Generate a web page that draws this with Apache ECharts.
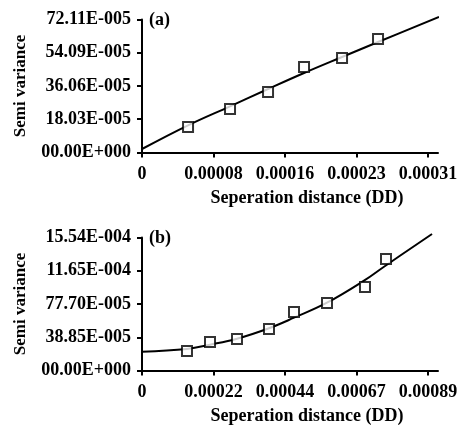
<!DOCTYPE html>
<html>
<head>
<meta charset="utf-8">
<script src="https://cdn.jsdelivr.net/npm/echarts@6/dist/echarts.min.js"></script>
<style>
  html, body { margin: 0; padding: 0; background: #fff; }
  #chart { width: 463px; height: 430px; }
</style>
</head>
<body>
<div id="chart"></div>
<script>
// panel (a)
var distA = [0.0000499, 0.0000954, 0.0001366, 0.0001756, 0.0002168, 0.0002558];
var semiA = [0.0001383, 0.0002358, 0.000328, 0.0004636, 0.0005124, 0.0006154];
var fitDistA = [0, 0.0000499, 0.0000954, 0.0001366, 0.0001756, 0.0002168, 0.0002558, 0.0003219];
var fitA = [0.000019, 0.0001475, 0.0002505, 0.0003443, 0.000431, 0.0005178, 0.0005991, 0.0007347];
var xTicksA = [0, 0.0000775, 0.000155, 0.0002325, 0.00031];
var xLabelsA = ['0', '0.00008', '0.00016', '0.00023', '0.00031'];
var yTicksA = [0, 0.00018028, 0.00036055, 0.00054083, 0.0007211];
var yLabelsA = ['00.00E+000', '18.03E-005', '36.06E-005', '54.09E-005', '72.11E-005'];

// panel (b)
var distB = [0.00014, 0.0002116, 0.0002956, 0.0003952, 0.000473, 0.0005757, 0.0006939, 0.0007593];
var semiB = [0.0002278, 0.000333, 0.000368, 0.0004849, 0.0006835, 0.0007887, 0.0009756, 0.0013028];
var fitDistB = [0, 0.00014, 0.0002116, 0.0002956, 0.0003952, 0.000473, 0.0005757, 0.0006908, 0.0007531, 0.0009025];
var fitB = [0.0002197, 0.0002524, 0.0003014, 0.0003716, 0.0004942, 0.0006169, 0.0007922, 0.0010493, 0.0012128, 0.0015949];
var xTicksB = [0, 0.0002225, 0.000445, 0.0006675, 0.00089];
var xLabelsB = ['0', '0.00022', '0.00044', '0.00067', '0.00089'];
var yTicksB = [0, 0.0003885, 0.000777, 0.0011655, 0.001554];
var yLabelsB = ['00.00E+000', '38.85E-005', '77.70E-005', '11.65E-004', '15.54E-004'];

var font = 'Liberation Serif';

function pairs(xs, ys) {
  return xs.map(function (x, i) { return [x, ys[i]]; });
}

function labelFor(ticks, labels) {
  return function (v) {
    for (var i = 0; i < ticks.length; i++) {
      if (Math.abs(ticks[i] - v) < 1e-10) return labels[i];
    }
    return '';
  };
}

function xAxis(idx, max, ticks, labels) {
  return {
    type: 'value',
    gridIndex: idx,
    min: 0,
    max: max,
    name: 'Seperation distance (DD)',
    nameLocation: 'middle',
    nameGap: 37,
    nameTextStyle: { color: '#000', fontFamily: font, fontSize: 18, fontWeight: 'bold', padding: [0, 0, 0, 34] },
    axisLine: { onZero: false, lineStyle: { color: '#000', width: 2 } },
    axisTick: { customValues: ticks, length: 5, lineStyle: { color: '#000', width: 2 } },
    axisLabel: {
      customValues: ticks,
      formatter: labelFor(ticks, labels),
      color: '#000', fontFamily: font, fontSize: 18, fontWeight: 'bold', margin: 13
    },
    splitLine: { show: false }
  };
}

function yAxis(idx, max, ticks, labels) {
  return {
    type: 'value',
    gridIndex: idx,
    min: 0,
    max: max,
    name: 'Semi variance',
    nameLocation: 'middle',
    nameGap: 113,
    nameTextStyle: { color: '#000', fontFamily: font, fontSize: 17, fontWeight: 'bold' },
    axisLine: { show: true, lineStyle: { color: '#000', width: 2 } },
    axisTick: { show: true, customValues: ticks, length: 5, lineStyle: { color: '#000', width: 2 } },
    axisLabel: {
      customValues: ticks,
      formatter: labelFor(ticks, labels),
      color: '#000', fontFamily: font, fontSize: 18, fontWeight: 'bold', margin: 11
    },
    splitLine: { show: false }
  };
}

function fitSeries(idx, data) {
  return {
    type: 'line',
    xAxisIndex: idx,
    yAxisIndex: idx,
    data: data,
    smooth: 0.4,
    showSymbol: false,
    clip: false,
    lineStyle: { color: '#000', width: 2 },
    z: 2
  };
}

function pointSeries(idx, data) {
  return {
    type: 'scatter',
    xAxisIndex: idx,
    yAxisIndex: idx,
    data: data,
    symbol: 'rect',
    symbolSize: 10,
    itemStyle: { color: '#fff', borderColor: '#000', borderWidth: 2 },
    z: 3
  };
}

var chart = echarts.init(document.getElementById('chart'));
chart.setOption({
  animation: false,
  backgroundColor: '#fff',
  grid: [
    { left: 142, top: 19.5, width: 296, height: 133 },
    { left: 142, top: 237.5, width: 296, height: 133 }
  ],
  xAxis: [
    xAxis(0, 0.0003208, xTicksA, xLabelsA),
    xAxis(1, 0.0009211, xTicksB, xLabelsB)
  ],
  yAxis: [
    yAxis(0, 0.0007211, yTicksA, yLabelsA),
    yAxis(1, 0.001554, yTicksB, yLabelsB)
  ],
  graphic: [
    { type: 'text', left: 149, top: 11, style: { text: '(a)', fill: '#000', font: 'bold 18px "Liberation Serif"' } },
    { type: 'text', left: 149, top: 229, style: { text: '(b)', fill: '#000', font: 'bold 18px "Liberation Serif"' } }
  ],
  series: [
    fitSeries(0, pairs(fitDistA, fitA)),
    pointSeries(0, pairs(distA, semiA)),
    fitSeries(1, pairs(fitDistB, fitB)),
    pointSeries(1, pairs(distB, semiB))
  ]
});
</script>
</body>
</html>
